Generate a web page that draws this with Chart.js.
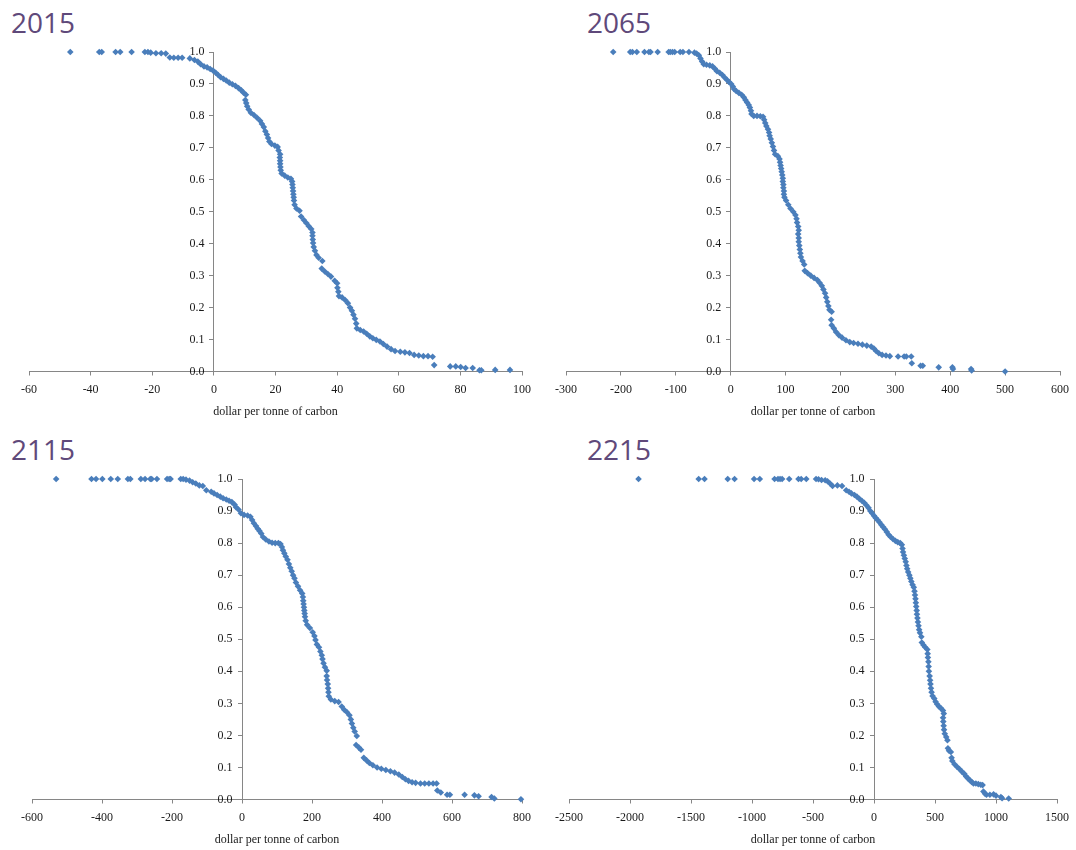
<!DOCTYPE html>
<html>
<head>
<meta charset="utf-8">
<script src="https://cdn.jsdelivr.net/npm/chart.js@4.4.1/dist/chart.umd.min.js"></script>
<style>
  html, body { margin: 0; padding: 0; background: #fff; }
  #wrap { position: relative; width: 1076px; height: 850px; overflow: hidden; }
  canvas { position: absolute; }
  .yr { position: absolute; font-family: 'Open Sans', sans-serif; font-size: 28px; line-height: 28px; color: #5f497a; }
</style>
</head>
<body>
<div id="wrap">
  <div class="yr" style="left:11px; top:8px;">2015</div>
  <div class="yr" style="left:587px; top:8px;">2065</div>
  <div class="yr" style="left:11px; top:435px;">2115</div>
  <div class="yr" style="left:587px; top:435px;">2215</div>
  <canvas id="c2015" width="538" height="425" style="left:0; top:0;"></canvas>
  <canvas id="c2065" width="538" height="425" style="left:538px; top:0;"></canvas>
  <canvas id="c2115" width="538" height="425" style="left:0; top:425px;"></canvas>
  <canvas id="c2215" width="538" height="425" style="left:538px; top:425px;"></canvas>
</div>
<script>
// [dollar per tonne of carbon, probability of exceeding]
const pts2015 = [[-46.6,1],[-37.2,1],[-36.4,1],[-31.9,1],[-30.4,1],[-26.7,1],[-22.4,1],[-21.4,1],[-20.5,0.998],[-18.8,0.996],[-17.1,0.996],[-15.6,0.995],[-14.3,0.983],[-13,0.982],[-11.6,0.982],[-10.3,0.982],[-7.8,0.98],[-6.3,0.975],[-5.2,0.97],[-4.3,0.962],[-3.2,0.955],[-2.2,0.952],[-1.2,0.947],[-0.3,0.942],[0.6,0.935],[1.4,0.928],[2.2,0.921],[3.1,0.916],[4.0,0.911],[5.0,0.904],[6.0,0.899],[7.0,0.894],[8.0,0.887],[8.9,0.88],[9.6,0.873],[10.4,0.866],[10.2,0.85],[10.5,0.84],[10.8,0.83],[11.3,0.82],[12.0,0.81],[13.0,0.803],[14.0,0.794],[15.0,0.785],[15.6,0.775],[16.2,0.765],[16.7,0.752],[17.2,0.742],[17.6,0.731],[18.0,0.72],[18.7,0.712],[19.8,0.707],[20.7,0.703],[21.0,0.692],[21.5,0.68],[21.4,0.67],[21.5,0.66],[21.5,0.65],[21.6,0.64],[21.7,0.63],[22.0,0.62],[23.0,0.613],[24.0,0.607],[25.0,0.603],[25.4,0.595],[25.5,0.585],[25.6,0.575],[25.7,0.565],[25.8,0.555],[25.9,0.545],[26.0,0.535],[26.2,0.522],[26.8,0.51],[27.8,0.503],[28.3,0.485],[29.2,0.474],[30.0,0.465],[30.8,0.455],[31.6,0.446],[32.0,0.435],[32.0,0.425],[32.1,0.413],[32.2,0.402],[32.4,0.39],[32.8,0.378],[33.3,0.365],[34.0,0.356],[35.2,0.346],[35.0,0.322],[36.0,0.313],[37.0,0.305],[38.0,0.297],[39.2,0.284],[40.0,0.276],[40.1,0.262],[40.4,0.25],[40.6,0.236],[41.6,0.232],[42.6,0.224],[43.5,0.214],[44.2,0.2],[44.8,0.19],[45.3,0.178],[45.8,0.165],[46.2,0.15],[46.4,0.135],[47.5,0.13],[48.6,0.125],[49.6,0.118],[50.6,0.11],[51.6,0.104],[52.7,0.099],[53.9,0.094],[55.0,0.086],[56.2,0.078],[57.5,0.07],[58.8,0.064],[60.5,0.062],[62.0,0.06],[63.5,0.058],[65.0,0.052],[66.5,0.05],[68.0,0.048],[69.5,0.048],[71.0,0.046],[71.5,0.02],[76.7,0.016],[78.5,0.016],[80.1,0.014],[81.7,0.011],[84.0,0.011],[86.2,0.004],[86.8,0.004],[91.3,0.005],[96.1,0.005]];

const pts2065 = [[-214,1],[-183,1],[-179,1],[-171,1],[-157,1],[-149,1],[-146,1],[-133,1],[-113,1],[-110,1],[-106,1],[-102,1],[-92,1],[-87,1],[-76,1],[-66,0.998],[-62,0.995],[-58,0.99],[-55,0.98],[-52,0.97],[-49,0.962],[-44,0.96],[-38,0.958],[-33,0.955],[-29,0.948],[-25,0.94],[-20,0.935],[-15,0.928],[-11,0.92],[-7,0.913],[-3,0.906],[1,0.9],[4,0.892],[6,0.884],[10,0.878],[15,0.872],[20,0.866],[24,0.858],[27,0.85],[30,0.842],[33,0.834],[35,0.826],[37,0.816],[38,0.806],[42,0.8],[48,0.8],[54,0.799],[59,0.797],[61,0.788],[63,0.778],[65,0.768],[68,0.758],[70,0.748],[71,0.738],[73,0.728],[75,0.716],[77,0.704],[79,0.692],[81,0.68],[86,0.674],[89,0.665],[90,0.655],[91,0.645],[92,0.635],[93,0.625],[94,0.615],[95,0.605],[95,0.595],[96,0.585],[96,0.575],[97,0.565],[97,0.555],[98,0.545],[101,0.535],[105,0.522],[109,0.51],[114,0.5],[118,0.49],[120,0.478],[121,0.466],[123,0.454],[124,0.442],[123,0.43],[124,0.418],[124,0.406],[125,0.394],[126,0.382],[127,0.37],[128,0.358],[131,0.346],[134,0.335],[135,0.315],[140,0.308],[146,0.3],[152,0.293],[158,0.286],[162,0.278],[166,0.268],[169,0.257],[172,0.245],[174,0.232],[176,0.218],[178,0.205],[180,0.193],[184,0.187],[183,0.162],[184,0.145],[188,0.135],[192,0.124],[197,0.114],[203,0.106],[210,0.098],[217,0.092],[224,0.089],[232,0.087],[240,0.084],[248,0.081],[256,0.078],[261,0.072],[265,0.064],[270,0.057],[276,0.052],[283,0.05],[290,0.048],[305,0.047],[316,0.047],[320,0.047],[329,0.047],[330,0.026],[346,0.018],[350,0.018],[379,0.013],[404,0.013],[405,0.008],[438,0.008],[439,0.003],[500,0]];

const pts2115 = [[-531,1],[-430,1],[-417,1],[-399,1],[-375,1],[-355,1],[-326,1],[-319,1],[-289,1],[-277,1],[-262,1],[-258,1],[-243,1],[-214,1],[-208,1],[-204,1],[-175,1],[-168,1],[-160,0.998],[-150,0.995],[-141,0.99],[-132,0.986],[-122,0.98],[-112,0.978],[-102,0.965],[-88,0.96],[-80,0.955],[-71,0.95],[-62,0.945],[-54,0.94],[-45,0.936],[-37,0.932],[-29,0.928],[-21,0.92],[-17,0.912],[-10,0.905],[-3,0.893],[6,0.888],[16,0.886],[24,0.882],[29,0.872],[34,0.862],[40,0.853],[45,0.845],[50,0.838],[55,0.83],[60,0.819],[68,0.811],[77,0.805],[86,0.801],[95,0.8],[104,0.8],[110,0.797],[114,0.788],[117,0.778],[121,0.768],[125,0.758],[130,0.748],[134,0.735],[138,0.723],[142,0.712],[146,0.7],[150,0.69],[154,0.677],[160,0.665],[166,0.653],[172,0.643],[174,0.632],[175,0.62],[176,0.61],[177,0.6],[178,0.59],[179,0.58],[180,0.57],[182,0.558],[186,0.545],[194,0.535],[202,0.522],[207,0.51],[210,0.498],[214,0.484],[220,0.475],[224,0.462],[228,0.45],[230,0.438],[233,0.425],[237,0.413],[242,0.402],[242,0.385],[243,0.373],[245,0.36],[246,0.347],[247,0.335],[248,0.322],[254,0.312],[265,0.307],[276,0.304],[285,0.29],[292,0.28],[300,0.272],[307,0.263],[311,0.25],[314,0.237],[318,0.224],[322,0.212],[328,0.198],[326,0.17],[334,0.162],[340,0.155],[348,0.13],[356,0.122],[364,0.114],[374,0.107],[386,0.1],[398,0.096],[411,0.092],[424,0.088],[436,0.084],[448,0.078],[458,0.07],[467,0.063],[476,0.058],[486,0.054],[496,0.052],[510,0.05],[522,0.05],[534,0.05],[546,0.05],[556,0.05],[558,0.028],[568,0.022],[586,0.015],[594,0.015],[636,0.015],[664,0.013],[676,0.01],[713,0.008],[721,0.003],[797,0.001]];

const pts2215 = [[-1930,1],[-1437,1],[-1389,1],[-1199,1],[-1143,1],[-983,1],[-936,1],[-815,1],[-787,1],[-770,1],[-753,1],[-695,1],[-619,1],[-597,1],[-555,1],[-475,1],[-455,0.999],[-430,0.997],[-400,0.996],[-381,0.993],[-358,0.985],[-340,0.978],[-300,0.98],[-262,0.978],[-228,0.965],[-205,0.96],[-185,0.955],[-160,0.95],[-140,0.945],[-120,0.938],[-100,0.932],[-80,0.926],[-62,0.918],[-45,0.91],[-30,0.9],[-15,0.893],[0,0.885],[15,0.878],[30,0.872],[45,0.865],[60,0.857],[75,0.85],[90,0.843],[105,0.835],[120,0.826],[135,0.82],[155,0.813],[175,0.807],[195,0.803],[215,0.8],[228,0.795],[234,0.783],[238,0.772],[245,0.762],[252,0.752],[260,0.742],[266,0.73],[272,0.72],[280,0.71],[290,0.7],[298,0.69],[306,0.68],[316,0.67],[326,0.662],[332,0.65],[336,0.638],[340,0.626],[343,0.614],[346,0.602],[350,0.59],[352,0.578],[356,0.566],[360,0.554],[365,0.542],[370,0.53],[377,0.52],[388,0.508],[392,0.49],[405,0.482],[420,0.475],[437,0.468],[440,0.455],[442,0.443],[446,0.43],[448,0.415],[450,0.4],[456,0.385],[460,0.372],[463,0.36],[467,0.347],[472,0.335],[480,0.323],[494,0.315],[505,0.305],[518,0.297],[532,0.29],[548,0.285],[565,0.278],[572,0.268],[566,0.255],[568,0.243],[571,0.23],[574,0.218],[580,0.205],[592,0.195],[602,0.185],[606,0.16],[615,0.152],[630,0.148],[636,0.13],[642,0.12],[660,0.11],[680,0.102],[700,0.095],[720,0.087],[740,0.08],[755,0.072],[770,0.066],[785,0.06],[800,0.055],[815,0.05],[835,0.05],[855,0.048],[875,0.046],[890,0.045],[897,0.025],[910,0.018],[922,0.015],[950,0.015],[980,0.016],[1000,0.012],[1040,0.008],[1050,0.004],[1104,0.003]];

// x axis ranges [min, max, step]
const range2015 = [-60, 100, 20];
const range2065 = [-300, 600, 100];
const range2115 = [-600, 800, 200];
const range2215 = [-2500, 1500, 500];
const probTicks = [0, 1, 0.1];

const axisTitle = 'dollar per tonne of carbon';

Chart.defaults.font.family = "'Liberation Serif', 'Times New Roman', serif";
Chart.defaults.font.size = 12;
Chart.defaults.color = '#1a1a1a';

function makeChart(id, pts, range, pad) {
    const ctx = document.getElementById(id).getContext('2d');
    new Chart(ctx, {
        type: 'scatter',
        data: {
            datasets: [{
                data: pts.map(p => ({ x: p[0], y: p[1] })),
                clip: false,
                pointStyle: 'rectRot',
                pointRadius: 3.3,
                borderWidth: 0,
                backgroundColor: '#4a7ebb',
                borderColor: '#4a7ebb'
            }]
        },
        options: {
            responsive: false,
            animation: false,
            layout: { padding: pad },
            plugins: { legend: { display: false }, tooltip: { enabled: false } },
            scales: {
                x: {
                    type: 'linear',
                    position: 'bottom',
                    min: range[0],
                    max: range[1],
                    afterFit: function (scale) { scale.height = 47.5; },
                    ticks: {
                        stepSize: range[2],
                        padding: 7,
                        maxRotation: 0,
                        callback: v => String(v)
                    },
                    grid: { drawOnChartArea: false, drawTicks: true, tickLength: 4, color: '#868686' },
                    border: { display: true, color: '#868686' },
                    title: { display: true, text: axisTitle, padding: { top: 0, bottom: 0 } }
                },
                y: {
                    type: 'linear',
                    position: { x: 0 },
                    min: probTicks[0],
                    max: probTicks[1],
                    ticks: {
                        stepSize: probTicks[2],
                        // the centred axis draws labels flush on the line, so pad them with spaces
                        callback: v => v.toFixed(1) + '\u2002\u2009\u200a'
                    },
                    grid: { drawOnChartArea: false, drawTicks: true, tickLength: 4, color: '#868686' },
                    border: { display: true, color: '#868686' }
                }
            }
        }
    });
}

makeChart('c2015', pts2015, range2015, { left: 29, right: 11, top: 52, bottom: 6 });
makeChart('c2065', pts2065, range2065, { left: 28, right: 13, top: 52, bottom: 6 });
makeChart('c2115', pts2115, range2115, { left: 32, right: 10, top: 54, bottom: 3 });
makeChart('c2215', pts2215, range2215, { left: 31, right: 16, top: 54, bottom: 3 });
</script>
</body>
</html>
